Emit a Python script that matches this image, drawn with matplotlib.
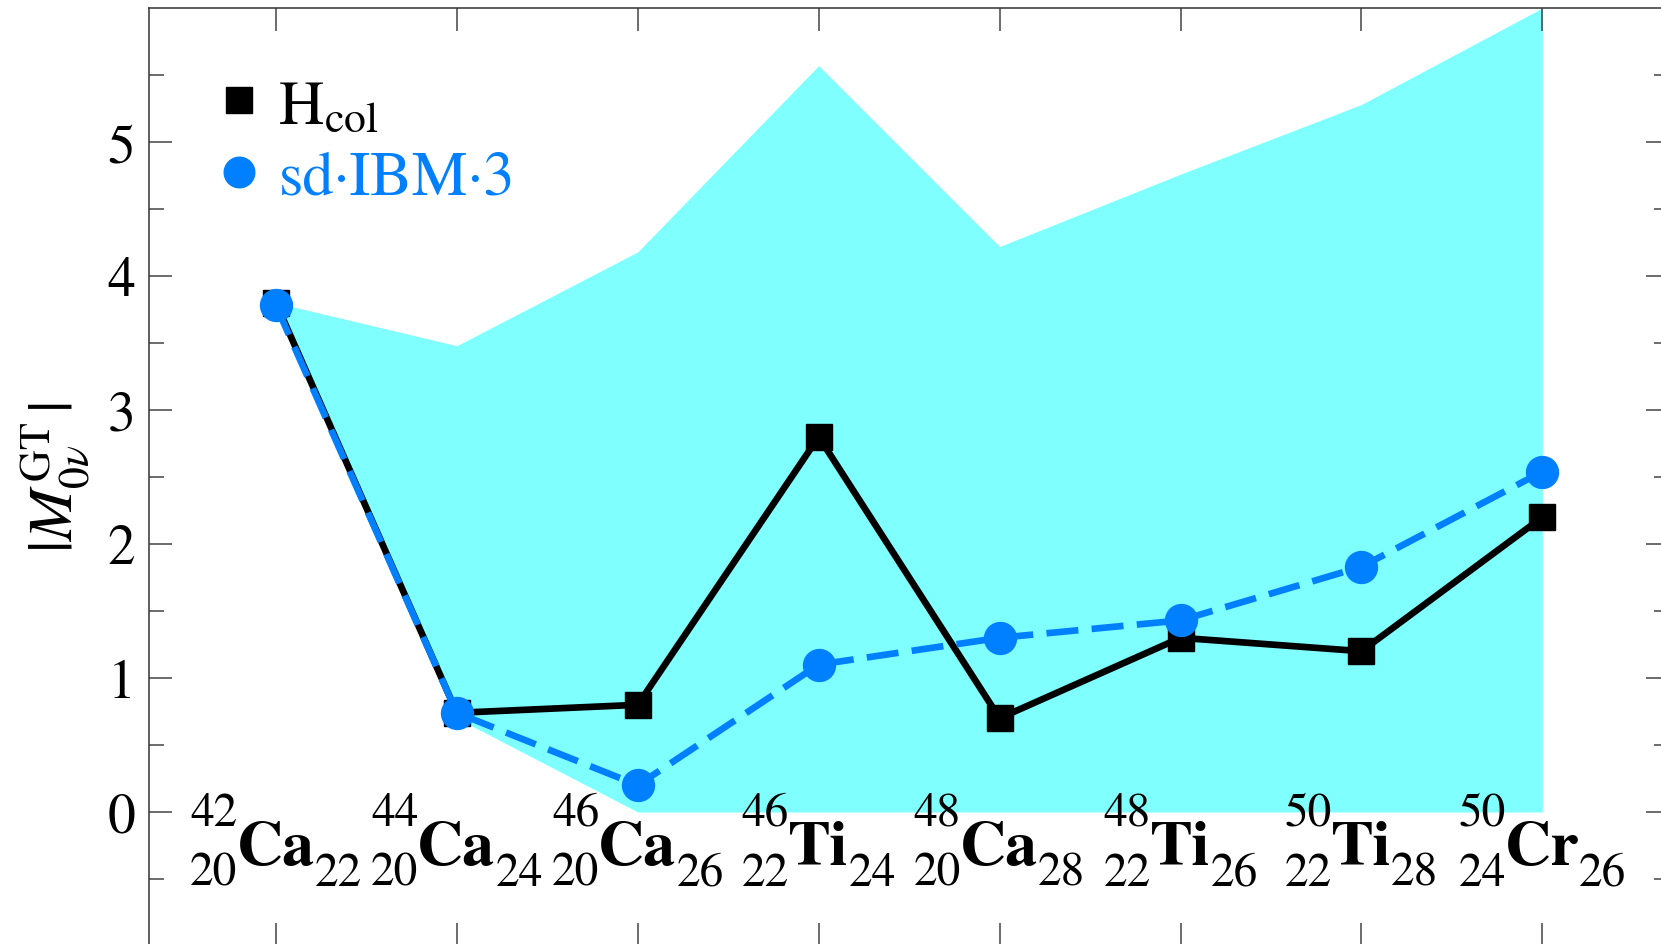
import matplotlib
matplotlib.use('Agg')
import matplotlib.pyplot as plt
from matplotlib.lines import Line2D
from matplotlib.transforms import offset_copy
import numpy as np

plt.rcParams['font.family'] = ['STIXGeneral', 'Liberation Serif', 'DejaVu Serif']
plt.rcParams['mathtext.fontset'] = 'stix'

# nuclei (mass number, proton number, symbol, neutron number)
mass_A = ['42', '44', '46', '46', '48', '48', '50', '50']
proton_Z = ['20', '20', '20', '22', '20', '22', '22', '24']
symbols = ['Ca', 'Ca', 'Ca', 'Ti', 'Ca', 'Ti', 'Ti', 'Cr']
neutron_N = ['22', '24', '26', '24', '28', '26', '28', '26']

# |M_0nu^GT| values
hcol = [3.80, 0.74, 0.80, 2.80, 0.70, 1.30, 1.20, 2.20]
sdibm3 = [3.78, 0.74, 0.20, 1.10, 1.30, 1.43, 1.83, 2.54]

# shaded band (range of other calculations)
band_low = [3.78, 0.70, 0.0, 0.0, 0.0, 0.0, 0.0, 0.0]
band_high = [3.80, 3.48, 4.18, 5.57, 4.22, 4.76, 5.28, 6.00]

yticks_major = [0, 1, 2, 3, 4, 5]
yticks_minor = [-0.5, 0.5, 1.5, 2.5, 3.5, 4.5, 5.5]

BLUE = '#0080ff'
CYAN = '#80ffff'

fig = plt.figure(figsize=(16.61, 9.45), dpi=100)
ax = fig.add_axes([149.3 / 1661, 1 - 947 / 945, (1669 - 149.3) / 1661, (947 - 9) / 945])

x = np.arange(len(symbols))
ax.fill_between(x, band_low, band_high, color=CYAN, lw=0, zorder=1)
ax.plot(x, hcol, color='black', lw=4.8, marker='s', ms=19, zorder=3)
ax.plot(x, sdibm3, color=BLUE, lw=4.8, ls=(0, (4.8, 2.0)), marker='o', ms=23, zorder=4)

ax.set_xlim(-0.7, 7.7)
ax.set_ylim(-1, 6)

ax.set_xticks(x)
ax.set_xticklabels([])
ax.set_yticks(yticks_major)
ax.set_yticks(yticks_minor, minor=True)
ax.set_yticklabels([str(v) for v in yticks_major], fontsize=40)

ax.tick_params(which='both', direction='in', top=True, right=True, bottom=True, left=True,
               color='#444444', width=1.1)
ax.tick_params(which='major', length=16.5, pad=10)
ax.tick_params(which='minor', length=11)
for sp in ax.spines.values():
    sp.set_linewidth(1.1)
    sp.set_color('#333333')

# nuclide labels: pre-super/subscript, bold symbol, post-subscript
renderer = fig.canvas.get_renderer()
SYM_FS = 46
SCR_FS = 34
base_y = -0.386
SUP_DY = 39
SUB_DY = -21


def text_width(s, **kw):
    t = fig.text(0, 0, s, **kw)
    w = t.get_window_extent(renderer).width
    t.remove()
    return w


def tr(dx, dy):
    return offset_copy(ax.transData, fig=fig, x=dx, y=dy, units='dots')


for i in range(len(symbols)):
    w_pre = max(text_width(mass_A[i], fontsize=SCR_FS), text_width(proton_Z[i], fontsize=SCR_FS))
    w_sym = text_width(symbols[i], fontsize=SYM_FS, fontweight='bold')
    w_post = text_width(neutron_N[i], fontsize=SCR_FS)
    gap_l, gap_r = -1, 0
    total = w_pre + gap_l + w_sym + gap_r + w_post
    left = -total / 2.0
    sym_left = left + w_pre + gap_l
    sym_right = sym_left + w_sym
    ax.text(x[i], base_y, symbols[i], fontsize=SYM_FS, fontweight='bold',
            ha='left', va='baseline', transform=tr(sym_left, 0), zorder=5)
    ax.text(x[i], base_y, mass_A[i], fontsize=SCR_FS, ha='right', va='baseline',
            transform=tr(sym_left - gap_l, SUP_DY), zorder=5)
    ax.text(x[i], base_y, proton_Z[i], fontsize=SCR_FS, ha='right', va='baseline',
            transform=tr(sym_left - gap_l, SUB_DY), zorder=5)
    ax.text(x[i], base_y, neutron_N[i], fontsize=SCR_FS, ha='left', va='baseline',
            transform=tr(sym_right + gap_r, SUB_DY), zorder=5)

ax.set_ylabel(r'$|M_{0\nu}^{\mathrm{GT}}\,|$', fontsize=45, va='center')
ax.yaxis.set_label_coords(-0.062, 0.5)

handles = [Line2D([], [], ls='none', marker='s', ms=19, color='black'),
           Line2D([], [], ls='none', marker='o', ms=22, color=BLUE)]
labels = [r'H$_{\mathrm{col}}$', 'sd·IBM·3']
leg = ax.legend(handles, labels, loc='upper left', bbox_to_anchor=(0.05, 0.925),
                frameon=False, fontsize=45, handlelength=0.45, handletextpad=0.4,
                labelspacing=0.22, borderpad=0, borderaxespad=0, labelcolor='linecolor')

fig.savefig('out.png', dpi=100)
